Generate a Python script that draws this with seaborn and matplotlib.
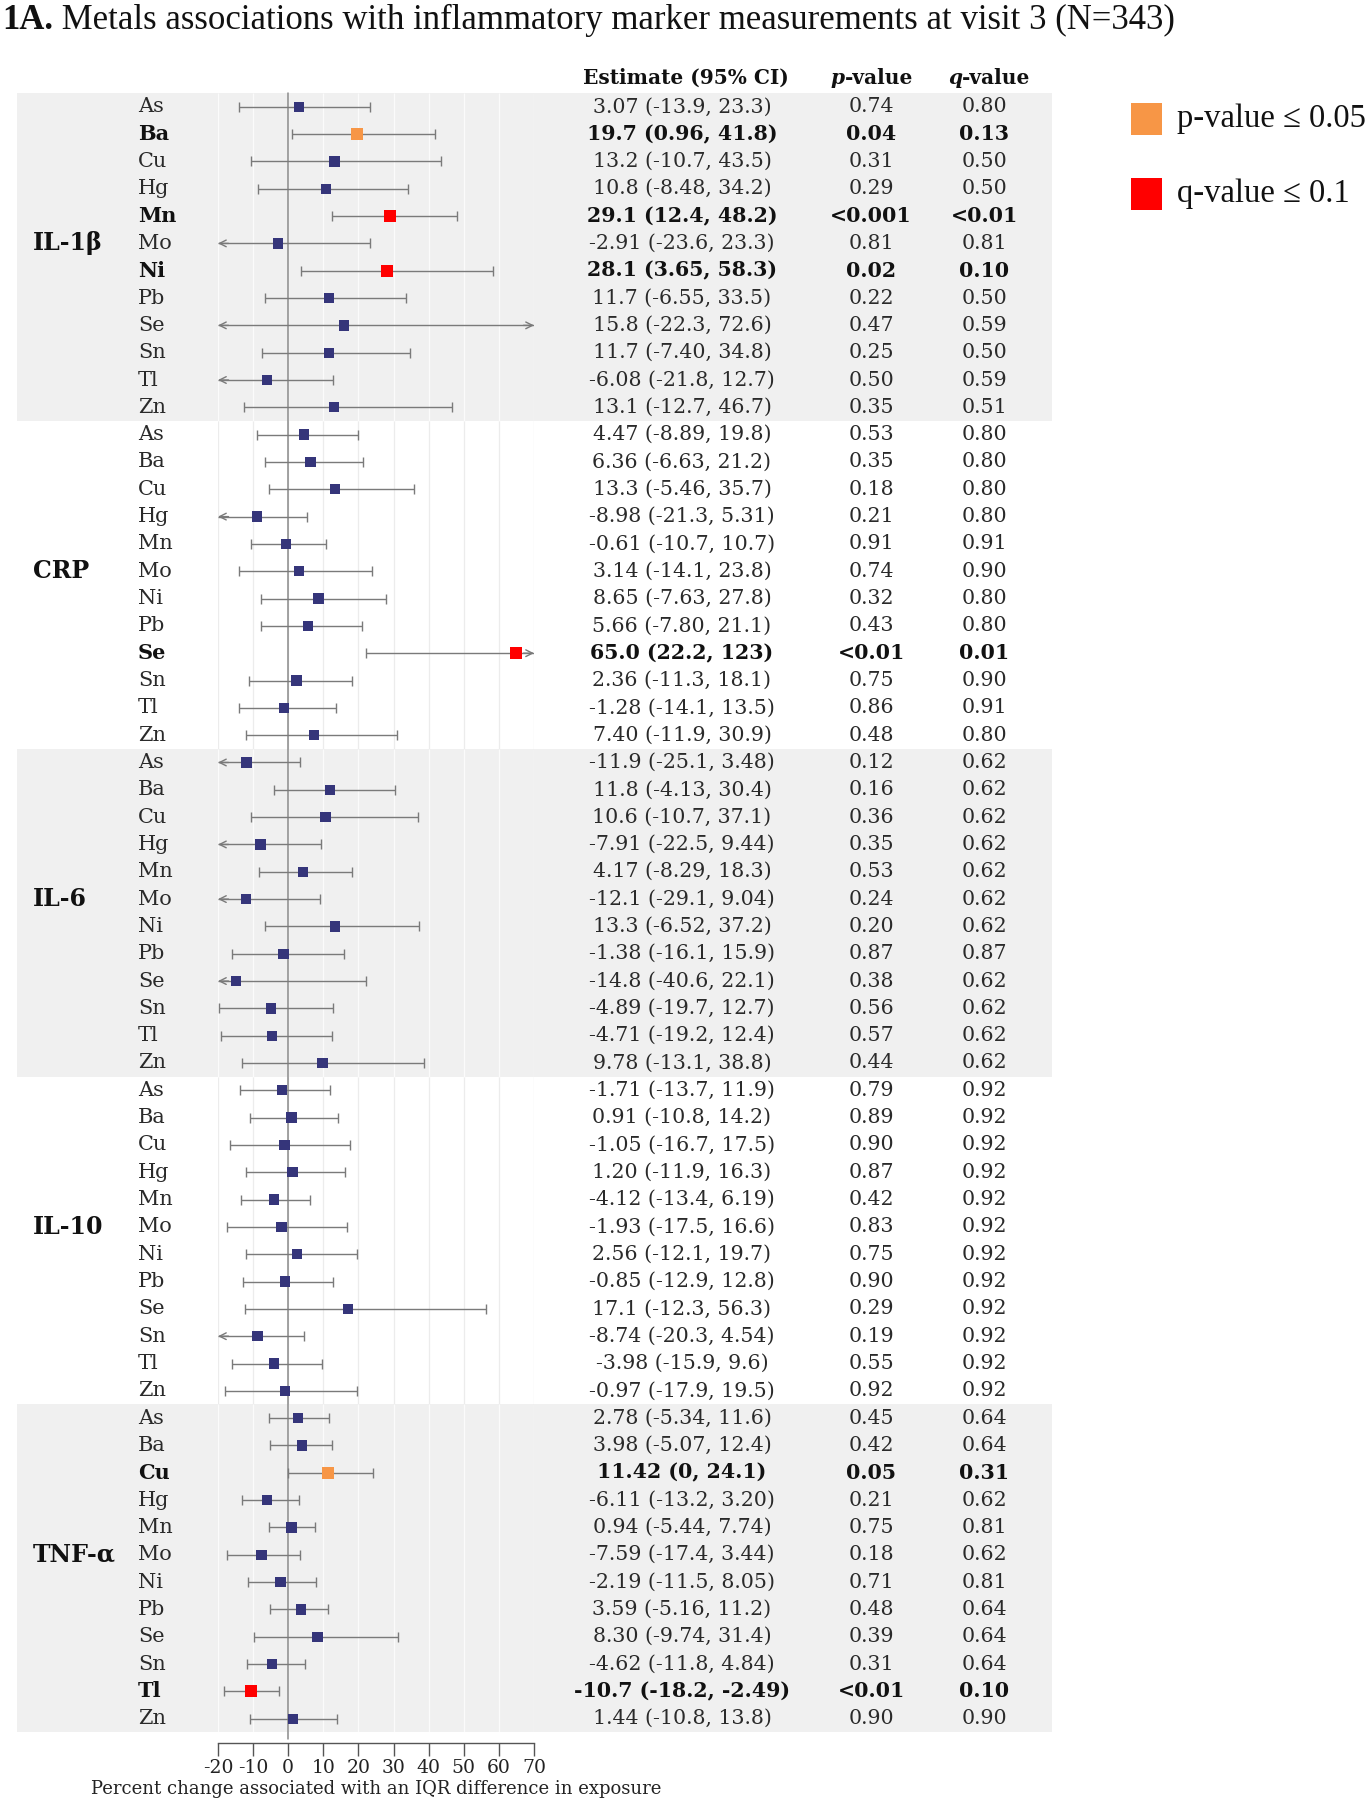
import matplotlib
matplotlib.use('Agg')
import matplotlib.pyplot as plt
import matplotlib.transforms as mtransforms
from matplotlib.patches import Rectangle
import numpy as np
import pandas as pd
import seaborn as sns

# inflammatory markers (groups) and metals (rows within each group)
markers = ['IL-1β', 'CRP', 'IL-6', 'IL-10', 'TNF-α']
metals = ['As', 'Ba', 'Cu', 'Hg', 'Mn', 'Mo', 'Ni', 'Pb', 'Se', 'Sn', 'Tl', 'Zn']

# percent change estimates and 95% CI, kept as printed in the table
est = ['3.07', '19.7', '13.2', '10.8', '29.1', '-2.91', '28.1', '11.7', '15.8', '11.7', '-6.08', '13.1',
       '4.47', '6.36', '13.3', '-8.98', '-0.61', '3.14', '8.65', '5.66', '65.0', '2.36', '-1.28', '7.40',
       '-11.9', '11.8', '10.6', '-7.91', '4.17', '-12.1', '13.3', '-1.38', '-14.8', '-4.89', '-4.71', '9.78',
       '-1.71', '0.91', '-1.05', '1.20', '-4.12', '-1.93', '2.56', '-0.85', '17.1', '-8.74', '-3.98', '-0.97',
       '2.78', '3.98', '11.42', '-6.11', '0.94', '-7.59', '-2.19', '3.59', '8.30', '-4.62', '-10.7', '1.44']
ci_lo = ['-13.9', '0.96', '-10.7', '-8.48', '12.4', '-23.6', '3.65', '-6.55', '-22.3', '-7.40', '-21.8', '-12.7',
         '-8.89', '-6.63', '-5.46', '-21.3', '-10.7', '-14.1', '-7.63', '-7.80', '22.2', '-11.3', '-14.1', '-11.9',
         '-25.1', '-4.13', '-10.7', '-22.5', '-8.29', '-29.1', '-6.52', '-16.1', '-40.6', '-19.7', '-19.2', '-13.1',
         '-13.7', '-10.8', '-16.7', '-11.9', '-13.4', '-17.5', '-12.1', '-12.9', '-12.3', '-20.3', '-15.9', '-17.9',
         '-5.34', '-5.07', '0', '-13.2', '-5.44', '-17.4', '-11.5', '-5.16', '-9.74', '-11.8', '-18.2', '-10.8']
ci_hi = ['23.3', '41.8', '43.5', '34.2', '48.2', '23.3', '58.3', '33.5', '72.6', '34.8', '12.7', '46.7',
         '19.8', '21.2', '35.7', '5.31', '10.7', '23.8', '27.8', '21.1', '123', '18.1', '13.5', '30.9',
         '3.48', '30.4', '37.1', '9.44', '18.3', '9.04', '37.2', '15.9', '22.1', '12.7', '12.4', '38.8',
         '11.9', '14.2', '17.5', '16.3', '6.19', '16.6', '19.7', '12.8', '56.3', '4.54', '9.6', '19.5',
         '11.6', '12.4', '24.1', '3.20', '7.74', '3.44', '8.05', '11.2', '31.4', '4.84', '-2.49', '13.8']
p_values = ['0.74', '0.04', '0.31', '0.29', '<0.001', '0.81', '0.02', '0.22', '0.47', '0.25', '0.50', '0.35',
            '0.53', '0.35', '0.18', '0.21', '0.91', '0.74', '0.32', '0.43', '<0.01', '0.75', '0.86', '0.48',
            '0.12', '0.16', '0.36', '0.35', '0.53', '0.24', '0.20', '0.87', '0.38', '0.56', '0.57', '0.44',
            '0.79', '0.89', '0.90', '0.87', '0.42', '0.83', '0.75', '0.90', '0.29', '0.19', '0.55', '0.92',
            '0.45', '0.42', '0.05', '0.21', '0.75', '0.18', '0.71', '0.48', '0.39', '0.31', '<0.01', '0.90']
q_values = ['0.80', '0.13', '0.50', '0.50', '<0.01', '0.81', '0.10', '0.50', '0.59', '0.50', '0.59', '0.51',
            '0.80', '0.80', '0.80', '0.80', '0.91', '0.90', '0.80', '0.80', '0.01', '0.90', '0.91', '0.80',
            '0.62', '0.62', '0.62', '0.62', '0.62', '0.62', '0.62', '0.87', '0.62', '0.62', '0.62', '0.62',
            '0.92', '0.92', '0.92', '0.92', '0.92', '0.92', '0.92', '0.92', '0.92', '0.92', '0.92', '0.92',
            '0.64', '0.64', '0.31', '0.62', '0.81', '0.62', '0.81', '0.64', '0.64', '0.64', '0.10', '0.90']

x_ticks = [-20, -10, 0, 10, 20, 30, 40, 50, 60, 70]

NAVY = '#35357a'
ORANGE = '#f79646'
RED = '#ff0000'
BAND = '#f0f0f0'
CI_COL = '#7a7a7a'


def as_num(s):
    return float(s.lstrip('<'))


df = pd.DataFrame({
    'marker': np.repeat(markers, len(metals)),
    'metal': metals * len(markers),
    'est_s': est, 'lo_s': ci_lo, 'hi_s': ci_hi, 'p': p_values, 'q': q_values,
})
df['row'] = np.arange(len(df))
df['est'] = df['est_s'].astype(float)
df['lo'] = df['lo_s'].astype(float)
df['hi'] = df['hi_s'].astype(float)
df['sig'] = 'none'
df.loc[df['p'].map(as_num) <= 0.05, 'sig'] = 'p'
df.loc[df['q'].map(as_num) <= 0.1, 'sig'] = 'q'

sns.set_theme(style='white')
plt.rcParams['font.family'] = ['DejaVu Serif']
plt.rcParams['axes.unicode_minus'] = False

W, H = 1371, 1800
fig = plt.figure(figsize=(W / 100, H / 100), dpi=100)

n = len(df)
X0, X1 = 218, 534          # pixel columns of -20 and 70
ROW0, DROW = 106.8, 27.32   # pixel row of first line and row pitch
top_px = ROW0 - DROW / 2
bot_px = ROW0 + DROW * (n - 0.5)
ax = fig.add_axes([X0 / W, 1 - bot_px / H, (X1 - X0) / W, (bot_px - top_px) / H])
ax.set_facecolor('none')
xmin, xmax = x_ticks[0], x_ticks[-1]

tr = mtransforms.blended_transform_factory(fig.transFigure, ax.transData)

# shaded group bands and faint vertical grid
ng = len(metals)
for g in range(len(markers)):
    y0 = g * ng - 0.5
    shaded = g % 2 == 0
    if shaded:
        ax.add_patch(Rectangle((17 / W, y0), (1052 - 17) / W, ng, transform=tr,
                               facecolor=BAND, edgecolor='none', zorder=0, clip_on=False))
    ax.vlines(x_ticks, y0, y0 + ng, colors='#fbfbfb' if shaded else '#ececec', lw=0.9, zorder=1)

ax.axvline(0, ymin=-0.004, ymax=1, color='#8a8a8a', lw=1.1, zorder=1.5, clip_on=False)

# confidence intervals: caps inside the range, open arrows where clipped
cap_x, cap_y = [], []
for r in df.itertuples():
    a = max(r.lo, xmin)
    b = min(r.hi, xmax)
    ax.hlines(r.row, a, b, color=CI_COL, lw=1, zorder=2)
    for val, lim, step in ((r.lo, xmin, 3), (r.hi, xmax, -3)):
        if (val < lim and step > 0) or (val > lim and step < 0):
            ax.annotate('', xy=(lim, r.row), xytext=(lim + step, r.row),
                        arrowprops=dict(arrowstyle='->,head_length=0.4,head_width=0.2',
                                        color=CI_COL, lw=1, shrinkA=0, shrinkB=0),
                        annotation_clip=False, zorder=2)
        else:
            cap_x.append(val)
            cap_y.append(r.row)
ax.plot(cap_x, cap_y, ls='none', marker='|', ms=7, mew=1, color=CI_COL, zorder=2)

sns.scatterplot(data=df, x='est', y='row', hue='sig', palette={'none': NAVY, 'p': ORANGE, 'q': RED},
                size='sig', sizes={'none': 55, 'p': 75, 'q': 75}, marker='s', linewidth=0,
                legend=False, ax=ax, zorder=4, clip_on=False)

ax.set_xlim(xmin, xmax)
ax.set_ylim(n - 0.5, -0.5)
ax.set_xticks(x_ticks)
ax.set_yticks([])
ax.set_ylabel('')
for s in ('left', 'right', 'top'):
    ax.spines[s].set_visible(False)
ax.spines['bottom'].set_position(('outward', 8))
ax.spines['bottom'].set_color('#555555')
ax.spines['bottom'].set_linewidth(1)
ax.tick_params(axis='x', direction='out', length=9, width=1, color='#555555',
               labelsize=13.5, pad=2, labelcolor='#222222', bottom=True)
ax.set_xlabel('Percent change associated with an IQR difference in exposure',
              fontsize=13, labelpad=2, color='#222222')

# table text
for r in df.itertuples():
    bold = r.sig != 'none'
    kw = dict(transform=tr, va='center', fontweight='bold' if bold else 'normal',
              color='#111111' if bold else '#2a2a2a')
    ax.text(138 / W, r.row, r.metal, ha='left', fontsize=15, **kw)
    ax.text(682 / W, r.row, f'{r.est_s} ({r.lo_s}, {r.hi_s})', ha='center', fontsize=14.8, **kw)
    ax.text(871 / W, r.row, r.p, ha='center', fontsize=14.8, **kw)
    ax.text(984 / W, r.row, r.q, ha='center', fontsize=14.8, **kw)

for g, name in enumerate(markers):
    ax.text(33 / W, g * ng + 5, name, transform=tr, ha='left', va='center',
            fontsize=17, fontweight='bold', color='#111111')

# column headers
hdr = dict(transform=tr, va='center', fontsize=14.5, fontweight='bold', color='#111111')
ax.text(686 / W, -1.05, 'Estimate (95% CI)', ha='center', **hdr)
for x_split, letter in ((845, 'p'), (962, 'q')):
    ax.text(x_split / W, -1.05, letter, ha='right', fontstyle='italic', **hdr)
    ax.text(x_split / W, -1.05, '-value', ha='left', **hdr)

# significance legend
serif = ['Liberation Serif', 'DejaVu Serif']
for yc, col, lab in ((119, ORANGE, 'p-value ≤ 0.05'), (194, RED, 'q-value ≤ 0.1')):
    fig.patches.append(Rectangle((1131 / W, 1 - (yc + 16) / H), 31 / W, 32 / H,
                                 transform=fig.transFigure, facecolor=col, edgecolor='none'))
    fig.text(1177 / W, 1 - yc / H, lab, ha='left', va='center', fontsize=23.5,
             family=serif, color='#111111')

# title: bold panel tag followed by regular text
t1 = fig.text(2 / W, 1 - 29 / H, '1A.', ha='left', va='baseline', fontsize=25,
              fontweight='bold', family=serif, color='#111111')
ax.annotate(' Metals associations with inflammatory marker measurements at visit 3 (N=343)',
            xy=(1, 0), xycoords=t1, ha='left', va='bottom', fontsize=25,
            family=serif, color='#111111', annotation_clip=False)

fig.savefig('out.png', dpi=100)
